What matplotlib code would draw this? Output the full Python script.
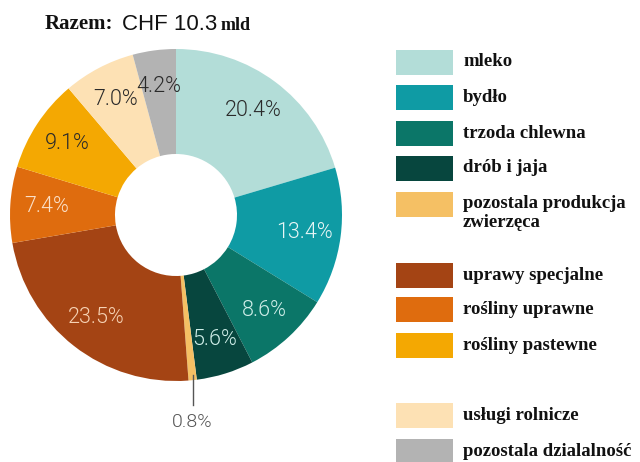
import matplotlib
matplotlib.use("Agg")
import matplotlib.pyplot as plt
from matplotlib.patches import Rectangle
import numpy as np

# share of total value (%), clockwise from the top
categories = ["mleko", "bydło", "trzoda chlewna", "drób i jaja",
              "pozostala produkcja\nzwierzęca", "uprawy specjalne",
              "rośliny uprawne", "rośliny pastewne", "usługi rolnicze",
              "pozostala dzialalność"]
shares = [20.4, 13.4, 8.6, 5.6, 0.8, 23.5, 7.4, 9.1, 7.0, 4.2]
colors = ["#b3ddd8", "#0f9ba4", "#0b7668", "#07463e", "#f5c064",
          "#a44414", "#df6c0e", "#f4a802", "#fde1b4", "#b3b3b3"]
label_colors = ["#2a2a2a", "#e8f6f6", "#cfeee8", "#cfeee8", "#555555",
                "#f6d2b4", "#fbe0c8", "#2a2a2a", "#2a2a2a", "#2a2a2a"]

W, H = 640, 462
fig = plt.figure(figsize=(W / 100, H / 100), dpi=100)
ax = fig.add_axes([0, 0, 1, 1])

cx, cy = 176, H - 215
R, r_in = 166, 61
ax.pie(shares, colors=colors, startangle=90, counterclock=False,
       center=(cx, cy), radius=R, wedgeprops=dict(width=R - r_in, linewidth=0))
ax.set_xlim(0, W)
ax.set_ylim(0, H)
ax.set_aspect("auto")
ax.axis("off")

# percentage labels
cum = np.cumsum([0] + shares)
for i, v in enumerate(shares):
    ang = np.deg2rad(90 - (cum[i] + v / 2) * 3.6)
    if v < 1:
        x0 = cx + R * np.cos(ang)
        ax.plot([x0, x0], [H - 375, H - 405], color="#555555", lw=1)
        ax.text(x0, H - 422, f"{v:.1f}%", ha="center", va="center",
                fontsize=14, color="#555555", family="Roboto", fontweight=300)
        continue
    rr = 130
    ax.text(cx + rr * np.cos(ang), cy + rr * np.sin(ang), f"{v:.1f}%",
            ha="center", va="center", fontsize=15.5, color=label_colors[i],
            family="Roboto", fontweight=300)

# title
ax.text(45, H - 24, "Razem:", ha="left", va="center", fontsize=15,
        fontweight="bold", family="Liberation Serif", color="#111111")
ax.text(122, H - 24, "CHF 10.3", ha="left", va="center", fontsize=16,
        family="Liberation Sans", color="#111111")
ax.text(221, H - 25, "mld", ha="left", va="center", fontsize=13,
        fontweight="bold", family="Liberation Serif", color="#111111")

# legend
legend_y = [62, 97, 133, 168, 204, 275, 309, 345, 415, 451]
for lab, c, yc in zip(categories, colors, legend_y):
    ax.add_patch(Rectangle((396, H - yc - 12.5), 57, 25, facecolor=c,
                           edgecolor="none"))
    ty = yc + 9 if "\n" in lab else yc
    ax.text(463, H - ty, lab, ha="left", va="center",
            fontsize=13.5, fontweight="bold", family="Liberation Serif",
            color="#111111", linespacing=1.12)

fig.savefig("out.png", dpi=100)
